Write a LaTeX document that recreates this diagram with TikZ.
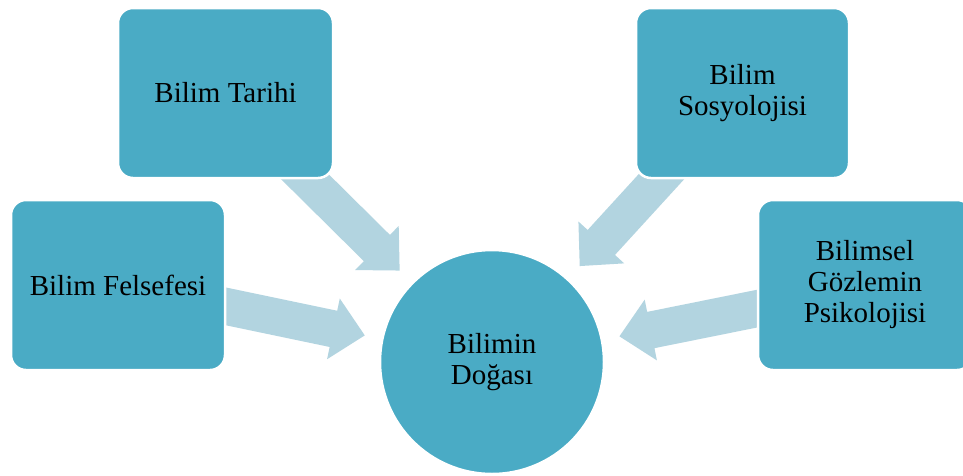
\documentclass[tikz,border=0pt]{standalone}
\usepackage{fontspec}
\setmainfont{Liberation Serif}
\usetikzlibrary{calc}
\definecolor{teal}{HTML}{4AABC5}
\definecolor{arrowblue}{HTML}{B2D4E0}
\tikzset{
  box/.style={draw=white, line width=2.5pt, fill=teal, rounded corners=15pt,
    minimum height=170pt, inner sep=0pt, align=center,
    font=\fontsize{29}{31}\selectfont, text=black},
  hub/.style={circle, draw=white, line width=2.5pt, fill=teal, minimum size=224pt,
    inner sep=0pt, align=center, font=\fontsize{29}{31}\selectfont, text=black},
  arrowfill/.style={fill=arrowblue}
}
\newcommand\blockarrow[3]{%
  \coordinate (#1p) at ($(c)!130pt!(#2)$);
  \coordinate (#1h) at ($(#1p)!32pt!(#2)$);
  \fill[arrowfill] ($(#2)!18.5pt!90:(#1p)$) -- ($(#1h)!18.5pt!90:(#1p)$)
    -- ($(#1h)!31pt!90:(#1p)$) -- (#1p) -- ($(#1h)!31pt!-90:(#1p)$)
    -- ($(#1h)!18.5pt!-90:(#1p)$) -- ($(#2)!18.5pt!-90:(#1p)$) -- cycle;}
\begin{document}
\begin{tikzpicture}[x=1pt, y=-1pt]
\useasboundingbox (0,0) rectangle (963,475);
\clip (0,0) rectangle (963,475);
\fill[white] (0,0) rectangle (963,475);
\coordinate (c) at (492,362);
\coordinate (t1) at (288,160);
\coordinate (t2) at (684,152);
\coordinate (t3) at (205,302);
\coordinate (t4) at (780,304);
\blockarrow{a1}{t1}{c}
\blockarrow{a2}{t2}{c}
\blockarrow{a3}{t3}{c}
\blockarrow{a4}{t4}{c}
\node[box, minimum width=215pt] (tarihi) at (225.5,93) {Bilim Tarihi};
\node[box, minimum width=213pt] (sosyo) at (742.5,93) {Bilim\\Sosyolojisi};
\node[box, minimum width=214pt] (felsefe) at (118,285) {Bilim Felsefesi};
\node[box, minimum width=214pt] (psiko) at (865,285) {Bilimsel\\Gözlemin\\Psikolojisi};
\node[hub] (doga) at (c) {Bilimin\\Doğası};
\end{tikzpicture}
\end{document}
